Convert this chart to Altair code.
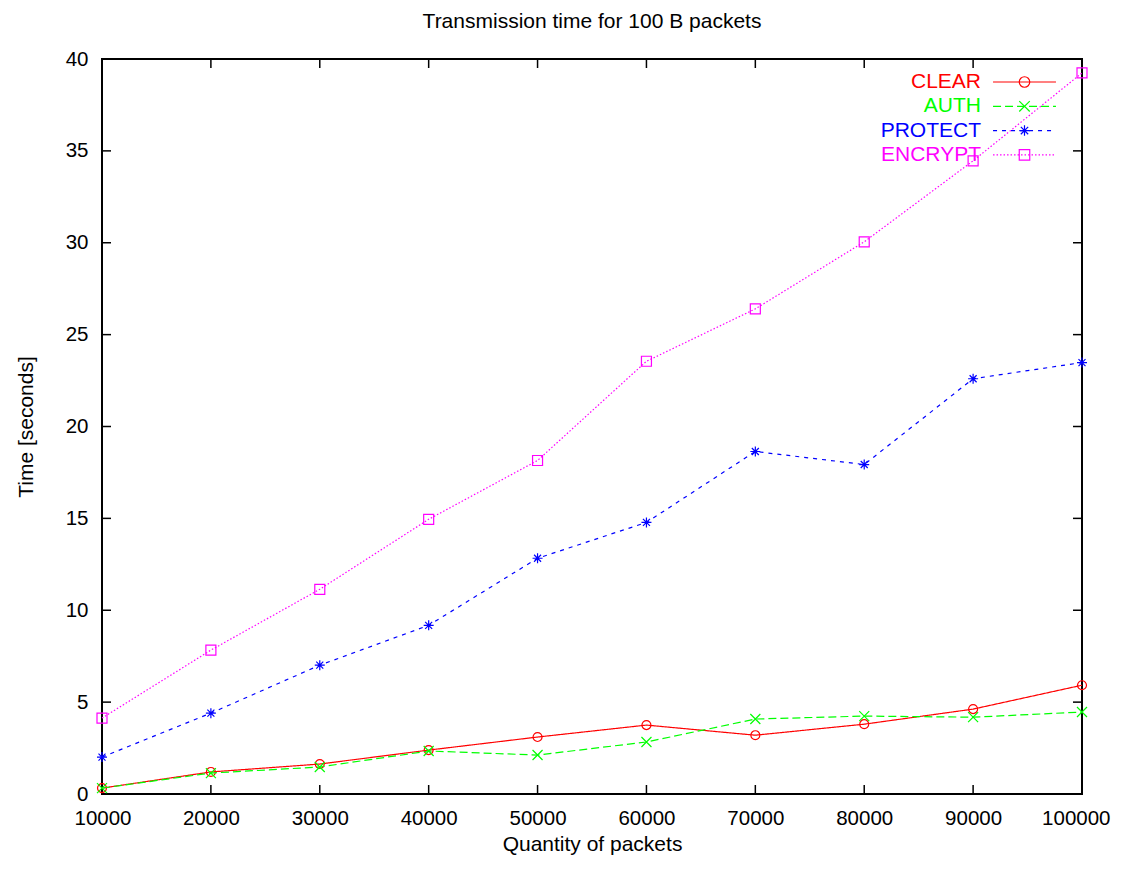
import altair as alt
import pandas as pd

# ---- data ----
packets = [10000, 20000, 30000, 40000, 50000, 60000, 70000, 80000, 90000, 100000]
clear = [0.32, 1.20, 1.63, 2.39, 3.10, 3.75, 3.20, 3.80, 4.62, 5.92]
auth = [0.32, 1.14, 1.47, 2.34, 2.12, 2.83, 4.08, 4.24, 4.18, 4.46]
protect = [2.01, 4.40, 7.01, 9.18, 12.83, 14.78, 18.64, 17.93, 22.60, 23.48]
encrypt = [4.13, 7.83, 11.14, 14.95, 18.15, 23.55, 26.40, 30.05, 34.46, 39.24]

series_names = ["CLEAR", "AUTH", "PROTECT", "ENCRYPT"]
series_colors = ["#ff0000", "#00ff00", "#0000ff", "#ff00ff"]
series_dashes = [[1, 0], [8, 4], [4, 5], [1.5, 2]]
x_ticks = [10000, 20000, 30000, 40000, 50000, 60000, 70000, 80000, 90000, 100000]
y_ticks = [0, 5, 10, 15, 20, 25, 30, 35, 40]

title_text = "Transmission time for 100 B packets"
x_title = "Quantity of packets"
y_title = "Time [seconds]"

# ---- styling ----
FONT = "Liberation Sans"
W, H = 980, 735
TICK = 9
asterisk = "M-1,0L1,0M0,-1L0,1M-0.7,-0.7L0.7,0.7M-0.7,0.7L0.7,-0.7"
xshape = "M-1,-1L1,1M-1,1L1,-1"
series_shapes = ["circle", xshape, asterisk, "square"]
marker_sizes = [80, 100, 100, 100]

LABEL_X = 858      # label legend origin (labels right-aligned)
SYM_X = 912        # line / marker legend origin
ROW0, ROW_STEP = 12.5, 24.3

rows = []
for name, vals in zip(series_names, [clear, auth, protect, encrypt]):
    for p, v in zip(packets, vals):
        rows.append({"packets": p, "time": v, "series": name,
                     "series_d": name + "_d", "series_m": name + "_m"})
df = pd.DataFrame(rows)

xscale = alt.Scale(domain=[10000, 100000], nice=False, zero=False)
yscale = alt.Scale(domain=[0, 40], nice=False)

xaxis = alt.Axis(values=x_ticks, format="d", grid=False, ticks=False, domain=False,
                 labelFont=FONT, labelFontSize=20.5, labelColor="black", labelPadding=14,
                 labelFlush=True, labelFlushOffset=28,
                 title=x_title, titleFont=FONT, titleFontSize=21, titleFontWeight="normal",
                 titleColor="black", titlePadding=5)
yaxis = alt.Axis(values=y_ticks, format="d", grid=False, ticks=False, domain=False,
                 labelFont=FONT, labelFontSize=20.5, labelColor="black", labelPadding=14,
                 title=y_title, titleFont=FONT, titleFontSize=21, titleFontWeight="normal",
                 titleColor="black", titlePadding=29)

layers = []

xt = pd.DataFrame({"packets": x_ticks})
yt = pd.DataFrame({"time": y_ticks})
layers.append(alt.Chart(xt).mark_rule(color="black", strokeWidth=1.5).encode(
    x=alt.X("packets:Q", scale=xscale, axis=xaxis), y=alt.value(H), y2=alt.value(H - TICK)))
layers.append(alt.Chart(xt).mark_rule(color="black", strokeWidth=1.5).encode(
    x=alt.X("packets:Q", scale=xscale), y=alt.value(0), y2=alt.value(TICK)))
layers.append(alt.Chart(yt).mark_rule(color="black", strokeWidth=1.5).encode(
    y=alt.Y("time:Q", scale=yscale, axis=yaxis), x=alt.value(0), x2=alt.value(TICK)))
layers.append(alt.Chart(yt).mark_rule(color="black", strokeWidth=1.5).encode(
    y=alt.Y("time:Q", scale=yscale), x=alt.value(W - TICK), x2=alt.value(W)))

base = alt.Chart(df)
for i, (name, col, dash, shp, msz) in enumerate(
        zip(series_names, series_colors, series_dashes, series_shapes, marker_sizes)):
    ly = ROW0 + ROW_STEP * i
    label_legend = alt.Legend(
        orient="none", legendX=LABEL_X, legendY=ly, title=None,
        symbolOpacity=0, symbolSize=100, symbolStrokeWidth=0,
        labelColor=col, labelFont=FONT, labelFontSize=21, labelAlign="right",
        labelOffset=0, labelLimit=400)
    line_legend = alt.Legend(
        orient="none", legendX=SYM_X, legendY=ly, title=None,
        symbolType="M-6,0L6,0", symbolSize=110, symbolStrokeWidth=1.2,
        symbolStrokeColor=col, symbolFillColor="transparent", symbolDash=dash,
        labelExpr="''", labelFont=FONT, labelFontSize=21)
    mark_legend = alt.Legend(
        orient="none", legendX=SYM_X, legendY=ly, title=None,
        symbolSize=110, symbolStrokeWidth=1.2, symbolStrokeColor=col,
        symbolFillColor="transparent",
        labelExpr="''", labelFont=FONT, labelFontSize=21)

    sub = base.transform_filter(alt.datum.series == name)
    layers.append(sub.mark_line(strokeWidth=1.2).encode(
        x=alt.X("packets:Q", scale=xscale),
        y=alt.Y("time:Q", scale=yscale),
        color=alt.Color("series:N", scale=alt.Scale(domain=[name], range=[col]),
                        legend=label_legend),
        strokeDash=alt.StrokeDash("series_d:N",
                                  scale=alt.Scale(domain=[name + "_d"], range=[dash]),
                                  legend=line_legend),
    ))
    layers.append(sub.mark_point(filled=False, color=col, strokeWidth=1.2, size=msz,
                                 opacity=1).encode(
        x=alt.X("packets:Q", scale=xscale),
        y=alt.Y("time:Q", scale=yscale),
        shape=alt.Shape("series_m:N", scale=alt.Scale(domain=[name + "_m"], range=[shp]),
                        legend=mark_legend),
    ))

chart = alt.layer(*layers).resolve_scale(
    color="independent", strokeDash="independent", shape="independent"
).properties(
    width=W, height=H,
    title=alt.TitleParams(title_text, font=FONT, fontSize=21, fontWeight="normal",
                          color="black", offset=17),
    autosize=alt.AutoSizeParams(type="none"),
    padding={"left": 94, "top": 51, "right": 32, "bottom": 62},
    background="white",
).configure_view(stroke="black", strokeWidth=2)

chart.save("out.html", embed_options={"renderer": "svg", "actions": False})
